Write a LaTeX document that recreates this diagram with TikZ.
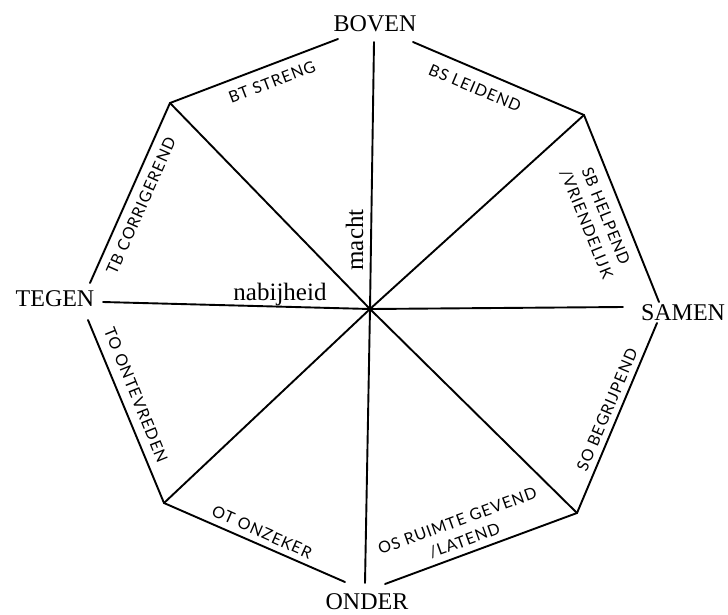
\documentclass[tikz,border=0pt]{standalone}
\usepackage{fontspec}
\setmainfont{Liberation Serif}
\newfontfamily\octfont{Lato}[LetterSpace=6]
\begin{document}
\begin{tikzpicture}[x=1pt, y=1pt,
      side/.style={line width=1.9pt, line cap=round},
      pole/.style={font=\fontsize{24}{27}\selectfont, inner sep=0pt},
      word/.style={font=\fontsize{25}{28}\selectfont, inner sep=0pt, anchor=base},
      quad/.style={font=\octfont\fontsize{16}{21}\selectfont, align=center, inner sep=0pt}]
    \useasboundingbox (0,0) rectangle (728,-614);
    % centre, corners and open ends of the octagon
    \coordinate (c) at (370,-309);
    \coordinate (ul) at (170,-103);
    \coordinate (ur) at (584,-115);
    \coordinate (lr) at (577,-513);
    \coordinate (ll) at (164,-503);
    \coordinate (tl) at (338,-39);
    \coordinate (tr) at (413,-42);
    \coordinate (lu) at (90,-283);
    \coordinate (ld) at (88,-320);
    \coordinate (ru) at (659,-302);
    \coordinate (rl) at (657,-323);
    \coordinate (bl) at (345,-582);
    \coordinate (br) at (385,-584);
    \coordinate (nN) at (374,-42);
    \coordinate (nS) at (365,-583);
    \coordinate (nW) at (103,-302);
    \coordinate (nE) at (623,-307);
    % poles
    \node[pole] (boven) at (375,-24) {BOVEN};
    \node[pole] (onder) at (367,-602) {ONDER};
    \node[pole] (tegen) at (55,-299) {TEGEN};
    \node[pole] (samen) at (683,-313) {SAMEN};
    % axes
    \draw[side] (nN) -- (c) -- (nS);
    \draw[side] (nW) -- (c) -- (nE);
    \draw[side] (ul) -- (c) -- (lr);
    \draw[side] (ur) -- (c) -- (ll);
    \node[word] (nabij) at (280,-300) {nabijheid};
    \node[word, rotate=90] (macht) at (363,-240) {macht};
    % sides
    \draw[side] (tl) -- (ul) -- (lu);
    \draw[side] (tr) -- (ur) -- (ru);
    \draw[side] (rl) -- (lr) -- (br);
    \draw[side] (bl) -- (ll) -- (ld);
    % octants
    \node[quad, rotate=21] (bt) at (272,-82) {BT STRENG};
    \node[quad, rotate=-23] (bs) at (475,-88) {BS LEIDEND};
    \node[quad, rotate=-68] (sb) at (596,-220) {SB HELPEND\\/VRIENDELIJK};
    \node[quad, rotate=67] (so) at (607,-410) {SO BEGRIJPEND};
    \node[quad, rotate=20] (os) at (461,-531) {OS RUIMTE GEVEND\\/LATEND};
    \node[quad, rotate=-24] (ot) at (262,-532) {OT ONZEKER};
    \node[quad, rotate=-68] (to) at (136,-395) {TO ONTEVREDEN};
    \node[quad, rotate=66] (tb) at (141,-206) {TB CORRIGEREND};
\end{tikzpicture}
\end{document}
